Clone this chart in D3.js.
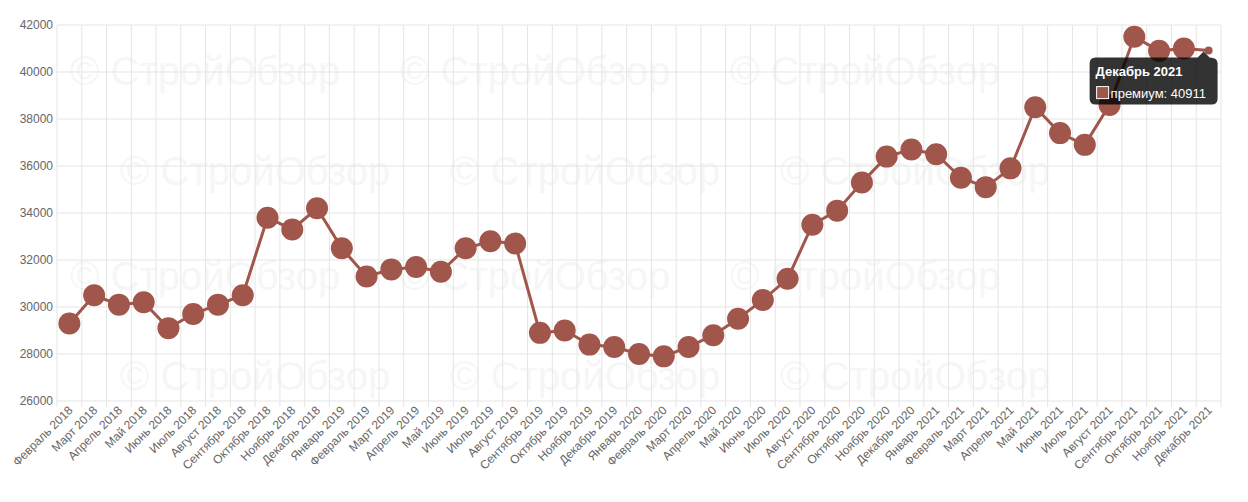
<!DOCTYPE html>
<html><head><meta charset="utf-8">
<script src="https://cdn.jsdelivr.net/npm/d3@7"></script>
<style>body{margin:0;background:#fff}svg{font-family:Arial,"Liberation Sans",sans-serif}</style>
</head><body><svg id="c" width="1248" height="502"></svg>
<script>
const months = ["Февраль 2018","Март 2018","Апрель 2018","Май 2018","Июнь 2018","Июль 2018","Август 2018","Сентябрь 2018","Октябрь 2018","Ноябрь 2018","Декабрь 2018",
"Январь 2019","Февраль 2019","Март 2019","Апрель 2019","Май 2019","Июнь 2019","Июль 2019","Август 2019","Сентябрь 2019","Октябрь 2019","Ноябрь 2019","Декабрь 2019",
"Январь 2020","Февраль 2020","Март 2020","Апрель 2020","Май 2020","Июнь 2020","Июль 2020","Август 2020","Сентябрь 2020","Октябрь 2020","Ноябрь 2020","Декабрь 2020",
"Январь 2021","Февраль 2021","Март 2021","Апрель 2021","Май 2021","Июнь 2021","Июль 2021","Август 2021","Сентябрь 2021","Октябрь 2021","Ноябрь 2021","Декабрь 2021"];
const premium = [29300,30500,30100,30200,29100,29700,30100,30500,33800,33300,34200,
32500,31300,31600,31700,31500,32500,32800,32700,28900,29000,28400,28300,
28000,27900,28300,28800,29500,30300,31200,33500,34100,35300,36400,36700,
36500,35500,35100,35900,38500,37400,36900,38600,41500,40900,41000,40911];
const yTicks = [26000,28000,30000,32000,34000,36000,38000,40000,42000];

const svg = d3.select("#c");
const L = 57, R = 1221, T = 25, B = 401;
const x = d3.scalePoint().domain(months).range([L, R]).padding(0.5);
const y = d3.scaleLinear().domain([26000, 42000]).range([B, T]);
const color = "#a0564b";

// watermark
const wm = svg.append("g").attr("fill", "#000").attr("opacity", 0.03).attr("font-size", 40);
[[70,85],[400,85],[730,85],[120,185],[450,185],[780,185],[70,290],[400,290],[730,290],[120,390],[450,390],[780,390]]
  .forEach(p => wm.append("text").attr("x", p[0]).attr("y", p[1]).text("© СтройОбзор"));

// grid
svg.append("g").selectAll("line").data(yTicks).join("line")
  .attr("x1", L).attr("x2", R).attr("y1", d => y(d)).attr("y2", d => y(d)).attr("stroke", "#e5e5e5");
svg.append("g").selectAll("line").data(months).join("line")
  .attr("x1", d => x(d) - x.step()/2).attr("x2", d => x(d) - x.step()/2)
  .attr("y1", T).attr("y2", B + 6).attr("stroke", "#e5e5e5");
svg.append("line").attr("x1", R).attr("x2", R).attr("y1", T).attr("y2", B+6).attr("stroke", "#e5e5e5");

// y labels
svg.append("g").selectAll("text").data(yTicks).join("text")
  .attr("x", L - 4).attr("y", d => y(d) + 4).attr("text-anchor", "end")
  .attr("font-size", 12).attr("fill", "#666").text(d => d);

// x labels
svg.append("g").selectAll("text").data(months).join("text")
  .attr("transform", d => `translate(${x(d) + 4},${B + 10}) rotate(-45)`)
  .attr("text-anchor", "end").attr("font-size", 12).attr("fill", "#666").text(d => d);

// line + points
svg.append("path").datum(premium)
  .attr("d", d3.line().x((d, i) => x(months[i])).y(d => y(d)))
  .attr("fill", "none").attr("stroke", color).attr("stroke-width", 3);
svg.append("g").selectAll("circle").data(premium).join("circle")
  .attr("cx", (d, i) => x(months[i])).attr("cy", d => y(d))
  .attr("r", (d, i) => i === premium.length - 1 ? 4 : 11)
  .attr("fill", color);

// tooltip
const li = premium.length - 1;
const tx = x(months[li]), ty = y(premium[li]);
const tt = svg.append("g").attr("transform", `translate(${tx - 119},${ty + 7})`);
tt.append("path").attr("d", `M0,6 Q0,0 6,0 H108 L114,-6 L120,0 Q128,0 128,6 V41 Q128,47 122,47 H6 Q0,47 0,41 Z`)
  .attr("fill", "rgba(0,0,0,0.8)");
tt.append("text").attr("x", 6).attr("y", 18).attr("fill", "#fff").attr("font-size", 13).attr("font-weight", "bold").text(months[li]);
tt.append("rect").attr("x", 7).attr("y", 29).attr("width", 12).attr("height", 12).attr("fill", color).attr("stroke", "#fff");
tt.append("text").attr("x", 21).attr("y", 40).attr("fill", "#fff").attr("font-size", 13).text("премиум: " + premium[li]);
</script></body></html>
